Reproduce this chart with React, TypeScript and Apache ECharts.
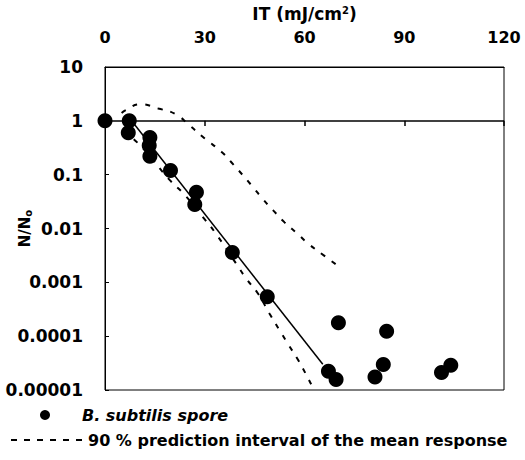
import React, { useEffect, useRef } from "react";
import * as echarts from "echarts";

const xTicks = [0, 30, 60, 90, 120];
const yTickLabels = ["0.00001", "0.0001", "0.001", "0.01", "0.1", "1", "10"];

const sporeX = [0, 7.3, 7, 13.5, 13.3, 13.5, 19.7, 27.5, 27, 38.3, 48.8, 70.2, 84.7, 67.2, 69.5, 83.7, 81.2, 101.2, 104];
const sporeY = [1, 1, 0.6, 0.49, 0.35, 0.22, 0.12, 0.047, 0.028, 0.0036, 0.00054, 0.000178, 0.000124, 0.0000224, 0.0000157, 0.0000298, 0.0000175, 0.0000211, 0.0000288];

const fitX = [8, 65.5];
const fitY = [1, 0.00003];

const upperX = [5, 6.3, 10.5, 16, 21.3, 25.3, 30, 35, 38.5, 44, 47.5, 50.5, 54, 58, 61, 66, 69.7];
const upperY = [1.4, 1.58, 2.03, 1.7, 1.32, 0.835, 0.47, 0.267, 0.157, 0.064, 0.035, 0.022, 0.013, 0.0079, 0.0053, 0.0031, 0.0021];

const lowerX = [5.5, 10.5, 19.5, 24, 30, 33.3, 39.5, 42.5, 46, 49.5, 52.5, 55.3, 58, 60.3, 62.3, 63];
const lowerY = [0.63, 0.355, 0.079, 0.042, 0.0148, 0.0081, 0.0022, 0.00117, 0.00062, 0.00026, 0.000129, 0.0000675, 0.0000368, 0.0000204, 0.0000118, 0.00001];

const zip = (xs: number[], ys: number[]) => xs.map((x, i) => [x, ys[i]]);

const FONT = "'DejaVu Sans', sans-serif";

export default function App() {
  const ref = useRef<HTMLDivElement>(null);
  useEffect(() => {
    if (!ref.current) return;
    const chart = echarts.init(ref.current, undefined, { renderer: "svg" });
    const bold = { fontFamily: FONT, fontWeight: "bold" as const, color: "#000" };
    chart.setOption({
      animation: false,
      backgroundColor: "#fff",
      grid: {
        left: 105, right: 21, top: 67, bottom: 70,
        containLabel: false, outerBoundsMode: "none",
        show: true, borderColor: "#000", borderWidth: 1, backgroundColor: "transparent",
      },
      xAxis: {
        type: "value",
        position: "top",
        min: xTicks[0],
        max: xTicks[xTicks.length - 1],
        interval: 30,
        name: "IT (mJ/cm{sup|2})",
        nameLocation: "middle",
        nameGap: 44,
        nameMoveOverlap: false,
        nameTextStyle: { ...bold, fontSize: 17, rich: { sup: { ...bold, fontSize: 10, verticalAlign: "top", padding: [0, 0, 8, 0] } } },
        axisLine: { show: true, lineStyle: { color: "#000" } },
        axisTick: { show: false },
        splitLine: { show: false },
        axisLabel: { ...bold, fontSize: 16, margin: 22 },
      },
      yAxis: {
        type: "log",
        logBase: 10,
        min: 0.00001,
        max: 10,
        name: "N/N{sub|o}",
        nameLocation: "middle",
        nameGap: 72,
        nameMoveOverlap: false,
        nameTextStyle: { ...bold, fontSize: 15, rich: { sub: { ...bold, fontSize: 10, padding: [6, 0, 0, 0] } } },
        axisLine: { show: true, lineStyle: { color: "#000" } },
        axisTick: { show: true, inside: true, length: 4, lineStyle: { color: "#000" } },
        splitLine: { show: false },
        axisLabel: {
          ...bold,
          fontSize: 17,
          margin: 22,
          formatter: (v: number) => yTickLabels[Math.round(Math.log10(v)) + 5] ?? "",
        },
      },
      series: [
        {
          name: "90 % prediction interval of the mean response",
          type: "line",
          data: zip(upperX, upperY),
          smooth: true,
          symbol: "none",
          lineStyle: { color: "#000", width: 2, type: [5, 8] },
          z: 2,
        },
        {
          name: "90 % prediction interval of the mean response",
          type: "line",
          data: zip(lowerX, lowerY),
          smooth: true,
          symbol: "none",
          lineStyle: { color: "#000", width: 2, type: [5, 8] },
          z: 2,
        },
        {
          name: "fit",
          type: "line",
          data: zip(fitX, fitY),
          symbol: "none",
          lineStyle: { color: "#000", width: 1.5 },
          z: 3,
        },
        {
          name: "B. subtilis spore",
          type: "scatter",
          data: zip(sporeX, sporeY),
          symbol: "circle",
          symbolSize: 15,
          itemStyle: { color: "#000", opacity: 1 },
          z: 4,
          markLine: {
            silent: true,
            symbol: "none",
            label: { show: false },
            lineStyle: { color: "#000", width: 1.5, type: "solid" },
            data: [
              { yAxis: 1 },
              ...xTicks.slice(1).map((t) => [{ coord: [t, 1] }, { coord: [t, 0.8] }]),
            ],
          },
        },
      ],
      graphic: [
        { type: "circle", shape: { cx: 45, cy: 415, r: 5 }, style: { fill: "#000" } },
        {
          type: "text",
          x: 82,
          y: 415,
          style: { text: "B. subtilis spore", font: `italic bold 16px ${FONT}`, fill: "#000", verticalAlign: "middle" },
        },
        { type: "line", shape: { x1: 11, y1: 440, x2: 84, y2: 440 }, style: { stroke: "#000", lineWidth: 2, lineDash: [6, 7] } },
        {
          type: "text",
          x: 88,
          y: 440,
          style: { text: "90 % prediction interval of the mean response", font: `bold 16px ${FONT}`, fill: "#000", verticalAlign: "middle" },
        },
      ],
    });
    return () => chart.dispose();
  }, []);
  return <div ref={ref} style={{ width: 525, height: 460, position: "absolute", left: 0, top: 0 }} />;
}
